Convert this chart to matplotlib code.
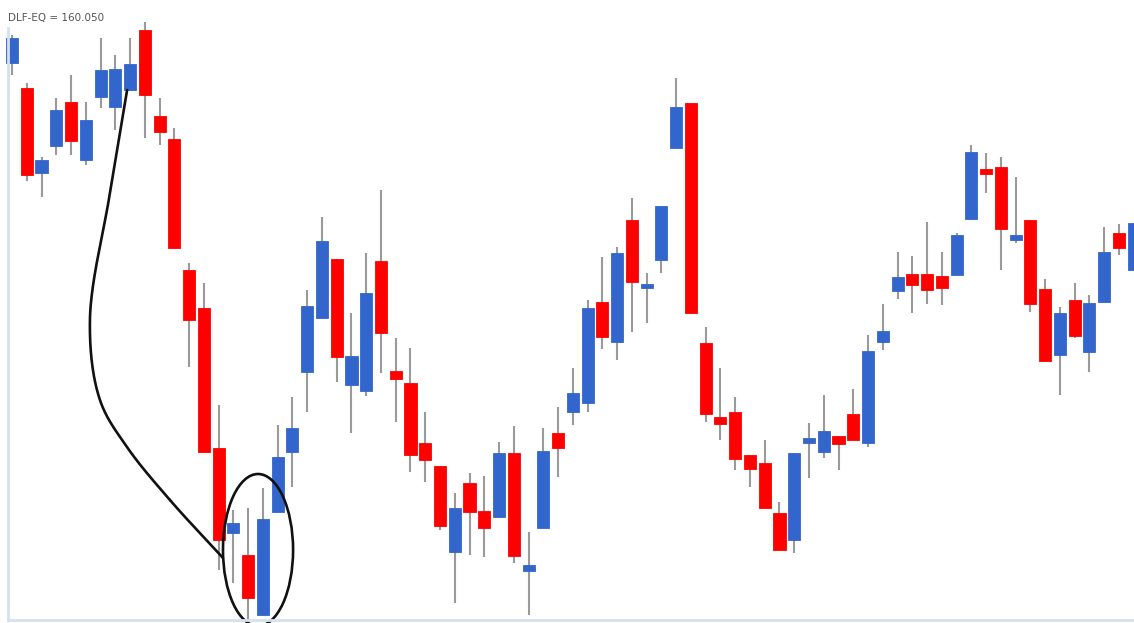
import numpy as np
import matplotlib
matplotlib.use("Agg")
import matplotlib.pyplot as plt
from matplotlib.patches import Ellipse
from matplotlib.lines import Line2D

# OHLC data for DLF-EQ
opens = [168.7, 166.2, 157.7, 160.4, 164.8, 159.0, 165.3, 164.3, 166.0, 172.0,
         163.4, 161.1, 148.0, 144.2, 130.2, 121.7, 119.5, 113.5, 123.8, 129.8,
         137.8, 143.2, 149.1, 136.5, 135.9, 148.9, 137.9, 136.7, 130.7, 128.4,
         119.8, 126.7, 123.9, 123.3, 129.7, 117.9, 122.2, 131.7, 133.8, 134.7,
         144.8, 140.8, 153.0, 146.2, 149.0, 160.2, 164.7, 140.7, 133.3, 133.8,
         129.5, 128.7, 123.7, 121.0, 130.7, 129.8, 131.4, 133.6, 130.7, 140.8,
         145.9, 147.6, 147.6, 147.4, 147.5, 153.1, 158.1, 158.3, 151.0, 153.0,
         146.1, 139.5, 145.0, 139.8, 144.8, 151.7, 148.0]
highs = [171.5, 166.7, 159.3, 165.2, 167.5, 164.8, 171.2, 169.5, 171.2, 172.8,
         165.2, 162.2, 148.7, 146.7, 134.5, 124.0, 124.2, 126.2, 132.5, 135.3,
         146.0, 153.3, 149.1, 143.7, 149.7, 156.0, 141.2, 140.2, 133.8, 128.4,
         125.7, 127.7, 127.4, 130.8, 132.4, 121.8, 132.2, 134.3, 138.2, 145.0,
         149.3, 150.3, 155.2, 147.7, 154.4, 167.2, 164.7, 142.3, 138.2, 135.3,
         129.5, 131.0, 124.8, 129.7, 132.7, 135.5, 131.4, 136.1, 141.5, 144.6,
         149.8, 149.4, 152.8, 149.8, 151.7, 160.5, 159.7, 159.3, 157.3, 153.0,
         147.1, 144.3, 146.7, 145.5, 152.3, 152.6, 152.7]
lows = [167.5, 156.9, 155.3, 159.5, 159.5, 158.5, 164.2, 162.0, 166.0, 161.2,
        160.5, 150.2, 138.3, 129.8, 118.0, 116.7, 112.8, 113.5, 123.8, 126.3,
        133.8, 143.2, 136.8, 131.7, 135.4, 137.7, 132.8, 127.8, 126.8, 122.0,
        114.7, 119.5, 119.3, 123.3, 118.7, 113.5, 122.2, 127.3, 132.5, 133.8,
        140.1, 139.0, 141.8, 142.7, 147.7, 160.2, 143.7, 132.8, 131.0, 128.0,
        126.3, 124.2, 120.0, 119.7, 127.2, 129.2, 128.0, 131.0, 130.3, 140.0,
        145.1, 143.7, 144.6, 144.5, 147.5, 153.1, 155.7, 148.0, 150.7, 143.8,
        138.9, 135.5, 141.2, 137.8, 144.8, 149.5, 148.0]
closes = [171.2, 157.5, 159.0, 164.0, 160.9, 163.0, 168.0, 168.1, 168.6, 165.5,
          161.8, 150.2, 143.0, 129.8, 121.0, 122.7, 115.2, 123.1, 129.3, 132.2,
          144.4, 150.9, 139.3, 139.4, 145.7, 141.7, 137.1, 129.5, 129.0, 122.4,
          124.2, 123.8, 122.2, 129.7, 119.4, 118.5, 129.9, 130.2, 135.7, 144.2,
          141.3, 149.7, 146.8, 146.6, 154.4, 164.3, 143.7, 133.6, 132.6, 129.1,
          128.1, 124.2, 120.0, 129.7, 131.2, 131.9, 130.6, 131.0, 139.9, 141.9,
          147.3, 146.5, 146.0, 146.2, 151.5, 159.8, 157.6, 152.1, 151.5, 144.6,
          138.9, 143.7, 141.4, 144.7, 149.8, 150.2, 152.7]

last_label = "DLF-EQ = 160.050"

# hand-drawn annotation: curve from the top down to the circled candles
curve_x = [7.8, 6.64, 5.28, 5.96, 7.79, 10.7, 14.3]
curve_y = [166.0, 155.7, 143.0, 135.0, 130.3, 125.0, 119.2]
circle_center = (16.67, 120.0)
circle_size = (4.75, 15.2)

UP = "#3366cc"
DOWN = "#ff0000"
WICK = "#9a9a9a"
FRAME = "#d3e2f1"


def smooth_curve(xs, ys, n=40):
    """Centripetal Catmull-Rom line through the points (in pixel-like space)."""
    # work in a roughly isotropic space so the bends look even
    sx, sy = 14.76, 10.0
    pts = np.column_stack([np.array(xs) * sx, np.array(ys) * sy])
    pts = np.vstack([2 * pts[0] - pts[1], pts, 2 * pts[-1] - pts[-2]])
    out = []
    for i in range(1, len(pts) - 2):
        p0, p1, p2, p3 = pts[i - 1], pts[i], pts[i + 1], pts[i + 2]
        t0 = 0.0
        t1 = t0 + np.linalg.norm(p1 - p0) ** 0.5
        t2 = t1 + np.linalg.norm(p2 - p1) ** 0.5
        t3 = t2 + np.linalg.norm(p3 - p2) ** 0.5
        t = np.linspace(t1, t2, n)[:, None]
        a1 = (t1 - t) / (t1 - t0) * p0 + (t - t0) / (t1 - t0) * p1
        a2 = (t2 - t) / (t2 - t1) * p1 + (t - t1) / (t2 - t1) * p2
        a3 = (t3 - t) / (t3 - t2) * p2 + (t - t2) / (t3 - t2) * p3
        b1 = (t2 - t) / (t2 - t0) * a1 + (t - t0) / (t2 - t0) * a2
        b2 = (t3 - t) / (t3 - t1) * a2 + (t - t1) / (t3 - t1) * a3
        out.append((t2 - t) / (t2 - t1) * b1 + (t - t1) / (t2 - t1) * b2)
    out = np.vstack(out)
    return out[:, 0] / sx, out[:, 1] / sy


fig = plt.figure(figsize=(11.34, 6.23), dpi=100)
ax = fig.add_axes([0, 0, 1, 1])

o = np.array(opens)
h = np.array(highs)
l = np.array(lows)
c = np.array(closes)
x = np.arange(len(o))
colors = [UP if cc >= oo else DOWN for oo, cc in zip(o, c)]

# wicks
ax.vlines(x, l, h, color=WICK, linewidth=1.5, zorder=1)
# bodies
ax.bar(x, np.abs(c - o), bottom=np.minimum(o, c), width=0.82,
       color=colors, edgecolor=colors, linewidth=0.6, zorder=2)

# annotations
cx, cy = smooth_curve(curve_x, curve_y)
ax.plot(cx, cy, color="#111111", linewidth=1.9, zorder=3,
        solid_capstyle="round")
ax.add_patch(Ellipse(circle_center, circle_size[0], circle_size[1],
                     fill=False, edgecolor="#111111", linewidth=1.9, zorder=3))

ax.set_xlim(-0.813, 76.02)
ax.set_ylim(112.7, 175.0)
ax.axis("off")

# chart frame (left and bottom edges)
fig.add_artist(Line2D([8 / 1134, 8 / 1134], [3 / 623, 595 / 623],
                      color=FRAME, linewidth=2))
fig.add_artist(Line2D([8 / 1134, 1.0], [3 / 623, 3 / 623],
                      color=FRAME, linewidth=2))

fig.text(8 / 1134, 1 - 18 / 623, last_label, fontsize=7.5, color="#555555",
         va="center", ha="left")

fig.savefig("out.png", dpi=100, facecolor="white")
